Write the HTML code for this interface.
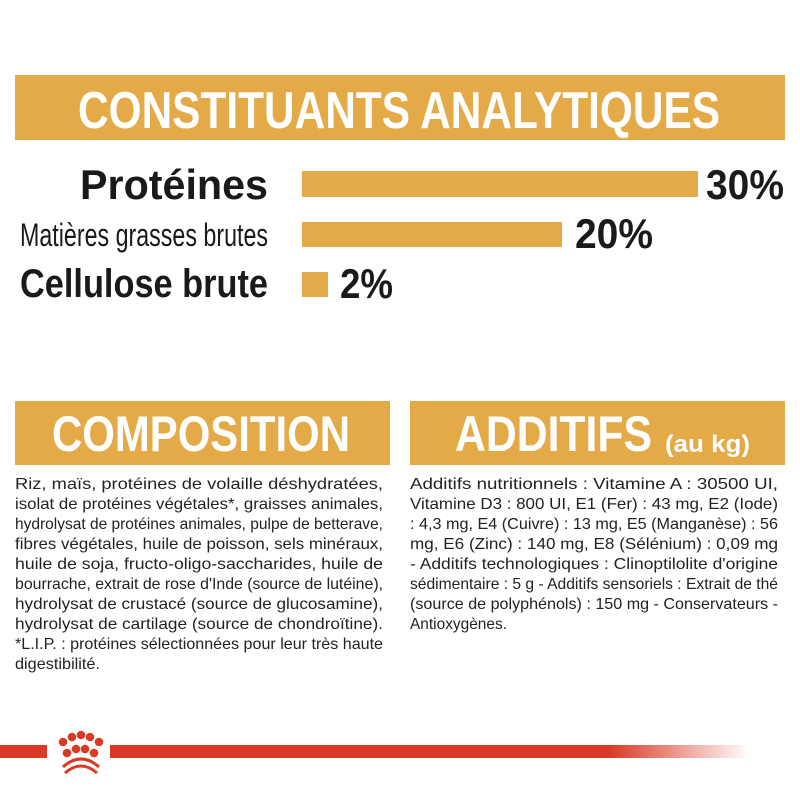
<!DOCTYPE html>
<html><head><meta charset="utf-8"><style>
html,body{margin:0;padding:0;background:#fff;width:800px;height:800px;overflow:hidden}
svg{display:block}
</style></head><body>
<svg width="800" height="800" viewBox="0 0 800 800" xmlns="http://www.w3.org/2000/svg" font-family="'Liberation Sans Narrow','Liberation Sans',sans-serif">
<defs>
<linearGradient id="fade" x1="0" x2="1" y1="0" y2="0">
<stop offset="0" stop-color="#d93a26"/>
<stop offset="0.78" stop-color="#d93a26"/>
<stop offset="1" stop-color="#d93a26" stop-opacity="0"/>
</linearGradient>
</defs>
<rect x="15" y="75" width="770" height="65" fill="#e4aa48"/>
<text x="78" y="128" font-size="52" font-weight="bold" fill="#fff" textLength="642" lengthAdjust="spacingAndGlyphs">CONSTITUANTS ANALYTIQUES</text>

<rect x="302" y="171" width="396" height="26" fill="#e4aa48"/>
<rect x="302" y="222" width="260" height="25" fill="#e4aa48"/>
<rect x="302" y="272" width="26" height="25" fill="#e4aa48"/>
<g fill="#1a1a1a" font-weight="bold">
<text x="80" y="199" font-size="42" textLength="188" lengthAdjust="spacingAndGlyphs">Protéines</text>
<text x="20" y="246" font-size="32" font-weight="normal" textLength="248" lengthAdjust="spacingAndGlyphs">Matières grasses brutes</text>
<text x="20" y="297" font-size="40" textLength="248" lengthAdjust="spacingAndGlyphs">Cellulose brute</text>
<text x="706" y="199" font-size="42" textLength="78" lengthAdjust="spacingAndGlyphs">30%</text>
<text x="575" y="248" font-size="42" textLength="78" lengthAdjust="spacingAndGlyphs">20%</text>
<text x="340" y="298" font-size="42" textLength="53" lengthAdjust="spacingAndGlyphs">2%</text>
</g>

<rect x="15" y="401" width="375" height="64" fill="#e4aa48"/>
<rect x="410" y="401" width="375" height="64" fill="#e4aa48"/>
<g fill="#fff" font-weight="bold">
<text x="52" y="451" font-size="50" textLength="298" lengthAdjust="spacingAndGlyphs">COMPOSITION</text>
<text x="455" y="451" font-size="50" textLength="197" lengthAdjust="spacingAndGlyphs">ADDITIFS</text>
<text x="665" y="452" font-size="24" textLength="85" lengthAdjust="spacingAndGlyphs">(au kg)</text>
</g>

<g fill="#222" font-size="16">
<text x="15" y="489" textLength="368" lengthAdjust="spacingAndGlyphs">Riz, maïs, protéines de volaille déshydratées,</text>
<text x="15" y="509" textLength="368" lengthAdjust="spacingAndGlyphs">isolat de protéines végétales*, graisses animales,</text>
<text x="15" y="529" textLength="368" lengthAdjust="spacingAndGlyphs">hydrolysat de protéines animales, pulpe de betterave,</text>
<text x="15" y="549" textLength="368" lengthAdjust="spacingAndGlyphs">fibres végétales, huile de poisson, sels minéraux,</text>
<text x="15" y="569" textLength="368" lengthAdjust="spacingAndGlyphs">huile de soja, fructo-oligo-saccharides, huile de</text>
<text x="15" y="589" textLength="368" lengthAdjust="spacingAndGlyphs">bourrache, extrait de rose d'Inde (source de lutéine),</text>
<text x="15" y="609" textLength="368" lengthAdjust="spacingAndGlyphs">hydrolysat de crustacé (source de glucosamine),</text>
<text x="15" y="629" textLength="368" lengthAdjust="spacingAndGlyphs">hydrolysat de cartilage (source de chondroïtine).</text>
<text x="15" y="649" textLength="368" lengthAdjust="spacingAndGlyphs">*L.I.P. : protéines sélectionnées pour leur très haute</text>
<text x="15" y="669" textLength="85" lengthAdjust="spacingAndGlyphs">digestibilité.</text>

<text x="410" y="489" textLength="368" lengthAdjust="spacingAndGlyphs">Additifs nutritionnels : Vitamine A : 30500 UI,</text>
<text x="410" y="509" textLength="368" lengthAdjust="spacingAndGlyphs">Vitamine D3 : 800 UI, E1 (Fer) : 43 mg, E2 (Iode)</text>
<text x="410" y="529" textLength="368" lengthAdjust="spacingAndGlyphs">: 4,3 mg, E4 (Cuivre) : 13 mg, E5 (Manganèse) : 56</text>
<text x="410" y="549" textLength="368" lengthAdjust="spacingAndGlyphs">mg, E6 (Zinc) : 140 mg, E8 (Sélénium) : 0,09 mg</text>
<text x="410" y="569" textLength="368" lengthAdjust="spacingAndGlyphs">- Additifs technologiques : Clinoptilolite d'origine</text>
<text x="410" y="589" textLength="368" lengthAdjust="spacingAndGlyphs">sédimentaire : 5 g - Additifs sensoriels : Extrait de thé</text>
<text x="410" y="609" textLength="368" lengthAdjust="spacingAndGlyphs">(source de polyphénols) : 150 mg - Conservateurs -</text>
<text x="410" y="629" textLength="97" lengthAdjust="spacingAndGlyphs">Antioxygènes.</text>
</g>

<rect x="0" y="745" width="47" height="13" fill="#d93a26"/>
<rect x="110" y="745" width="640" height="13" fill="url(#fade)"/>
<g fill="#d93a26">
<circle cx="63" cy="742" r="4.3"/><circle cx="72" cy="737" r="4.3"/><circle cx="81" cy="735" r="4.3"/><circle cx="90" cy="737" r="4.3"/><circle cx="99" cy="742" r="4.3"/>
<circle cx="67" cy="753" r="4.3"/><circle cx="76" cy="749" r="4.3"/><circle cx="85" cy="749" r="4.3"/><circle cx="94" cy="753" r="4.3"/>
</g>
<path d="M63 767 Q81 751 99 767" stroke="#d93a26" stroke-width="3" fill="none"/>
<path d="M65 773 Q81 759 97 773" stroke="#d93a26" stroke-width="3" fill="none"/>
</svg>
</body></html>
